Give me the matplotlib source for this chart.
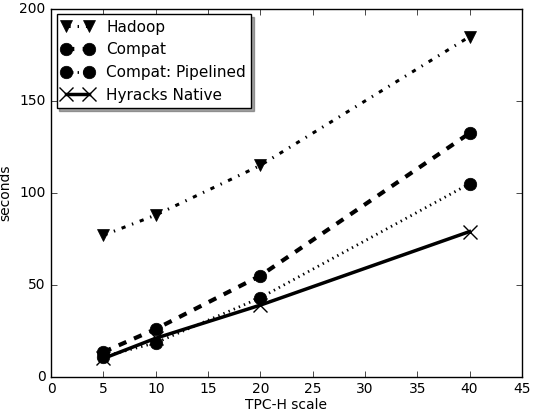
import matplotlib
matplotlib.use("Agg")
import matplotlib.pyplot as plt

plt.style.use("classic")

scale = [5, 10, 20, 40]
hadoop = [77, 88, 115, 185]
compat = [13.5, 26, 55, 132.5]
pipelined = [11, 18.5, 43, 105]
native = [10, 21, 39, 79]

fig = plt.figure(figsize=(5.33, 4.15), dpi=100)
ax = fig.add_axes([0.096, 0.092, 0.883, 0.886])

ax.plot(scale, hadoop, color="black", linestyle="-.", linewidth=2.2, marker="v", markersize=9, label="Hadoop")
ax.plot(scale, compat, color="black", linestyle="--", linewidth=3, marker="o", markersize=9, label="Compat")
ax.plot(scale, pipelined, color="black", linestyle=":", linewidth=2, marker="o", markersize=9, label="Compat: Pipelined")
ax.plot(scale, native, color="black", linestyle="-", linewidth=2.5, marker="x", markersize=10, mew=1, label="Hyracks Native")

ax.set_xlim(0, 45)
ax.set_ylim(0, 200)
ax.set_xticks(range(0, 46, 5))
ax.set_yticks(range(0, 201, 50))
ax.tick_params(labelsize=10)
ax.set_xlabel("TPC-H scale", fontsize=10, labelpad=1)
ax.set_ylabel("seconds", fontsize=10, labelpad=5)
leg = ax.legend(loc="upper left", shadow=True, fontsize=11, numpoints=2,
                handlelength=2.1, handletextpad=0.8, borderpad=0.35,
                labelspacing=0.5, borderaxespad=0.35)

fig.savefig("out.png", dpi=100)
